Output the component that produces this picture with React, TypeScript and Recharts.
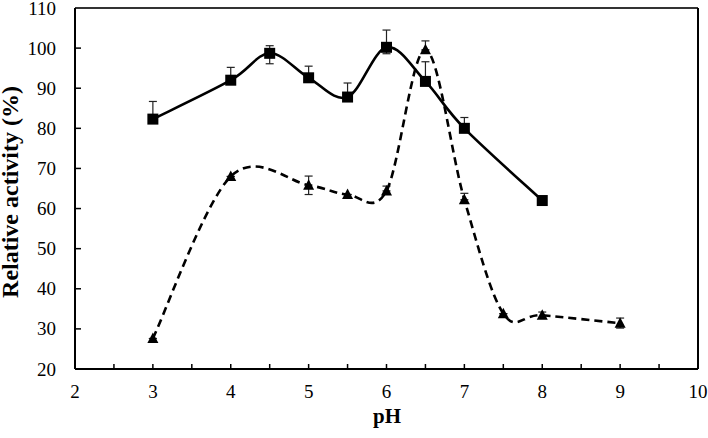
import { LineChart, Line, XAxis, YAxis, ErrorBar, ReferenceLine, Label } from "recharts";

const FONT = "Liberation Serif";

// pH values and relative activity (%) for the two series
const SQUARE_PH = [3, 4, 4.5, 5, 5.5, 6, 6.5, 7, 8];
const SQUARE_VAL = [82.3, 92, 98.7, 92.6, 87.8, 100.2, 91.7, 80, 62];
const SQUARE_ERR: [number, number][] = [
  [0, 4.4], [0, 3.2], [2.6, 1.9], [0, 2.9], [0, 3.5], [1.6, 4.3], [0, 4.9], [0, 2.7], [0, 0],
];

const TRI_PH = [3, 4, 5, 5.5, 6, 6.5, 7, 7.5, 8, 9];
const TRI_VAL = [27.6, 68, 65.8, 63.5, 64.4, 99.6, 62.2, 33.8, 33.4, 31.4];
const TRI_ERR: [number, number][] = [
  [0, 0], [0, 0], [2.3, 2.3], [0, 0], [0, 1.2], [0, 2.2], [0, 1.6], [0, 0], [0.8, 0.8], [1.2, 1.3],
];

const X_TICKS = [2, 2.5, 3, 3.5, 4, 4.5, 5, 5.5, 6, 6.5, 7, 7.5, 8, 8.5, 9, 9.5, 10];
const Y_TICKS = [20, 30, 40, 50, 60, 70, 80, 90, 100, 110];

const squareData = SQUARE_PH.map((ph, i) => ({ ph, value: SQUARE_VAL[i], err: SQUARE_ERR[i] }));
const triData = TRI_PH.map((ph, i) => ({ ph, value: TRI_VAL[i], err: TRI_ERR[i] }));

// Excel-like smoothing (Catmull-Rom with 1/6 control points)
function smoothCurve(context: any) {
  let pts: [number, number][] = [];
  return {
    areaStart() {},
    areaEnd() {},
    lineStart() {
      pts = [];
    },
    point(x: number, y: number) {
      pts.push([+x, +y]);
    },
    lineEnd() {
      const n = pts.length;
      if (!n) return;
      context.moveTo(pts[0][0], pts[0][1]);
      for (let i = 0; i < n - 1; i++) {
        const p0 = pts[i - 1] || pts[i];
        const p1 = pts[i];
        const p2 = pts[i + 1];
        const p3 = pts[i + 2] || p2;
        context.bezierCurveTo(
          p1[0] + (p2[0] - p0[0]) / 6,
          p1[1] + (p2[1] - p0[1]) / 6,
          p2[0] - (p3[0] - p1[0]) / 6,
          p2[1] - (p3[1] - p1[1]) / 6,
          p2[0],
          p2[1]
        );
      }
    },
  };
}

const SquareDot = (p: any) => {
  const { cx, cy, index } = p;
  if (cx == null || cy == null) return <g key={index} />;
  return <rect key={index} x={cx - 5.5} y={cy - 5.5} width={11} height={11} fill="#000" />;
};

const TriDot = (p: any) => {
  const { cx, cy, index } = p;
  if (cx == null || cy == null) return <g key={index} />;
  return (
    <polygon key={index} points={`${cx},${cy - 6} ${cx - 5.5},${cy + 4.5} ${cx + 5.5},${cy + 4.5}`} fill="#000" />
  );
};

const XTick = (p: any) => {
  const { x, y, payload } = p;
  const v = payload.value;
  const isInt = Number.isInteger(v);
  return (
    <g>
      {v > 2 && v < 10 && <line x1={x} y1={y} x2={x} y2={y - 5} stroke="#000" strokeWidth={1.5} />}
      {isInt && (
        <text x={x} y={y + 28.5} textAnchor="middle" style={{ fontFamily: FONT, fontSize: 19 }} fill="#000">
          {v}
        </text>
      )}
    </g>
  );
};

const YTick = (p: any) => {
  const { x, y, payload } = p;
  const v = payload.value;
  return (
    <g>
      {v > 20 && v < 110 && <line x1={x} y1={y} x2={x + 6} y2={y} stroke="#000" strokeWidth={1.5} />}
      <text x={x - 19} y={y + 6.5} textAnchor="end" style={{ fontFamily: FONT, fontSize: 19 }} fill="#000">
        {v}
      </text>
    </g>
  );
};

const YTitle = () => (
  <text
    transform="translate(18, 192) rotate(-90)"
    textAnchor="middle"
    style={{ fontFamily: FONT, fontSize: 24, fontWeight: "bold" }}
    fill="#000"
  >
    Relative activity (%)
  </text>
);

const XTitle = () => (
  <text x={387} y={423} textAnchor="middle" style={{ fontFamily: FONT, fontSize: 21, fontWeight: "bold" }} fill="#000">
    pH
  </text>
);

export default function App() {
  return (
    <div style={{ position: "absolute", left: 0, top: 0, background: "#fff", fontFamily: FONT }}>
      <LineChart width={708} height={438} margin={{ top: 8, right: 10, bottom: 0, left: 0 }}>
        <XAxis
          type="number"
          dataKey="ph"
          domain={[2, 10]}
          ticks={X_TICKS}
          interval={0}
          height={69}
          tickSize={0}
          tickMargin={0}
          tick={<XTick />}
          axisLine={{ stroke: "#000", strokeWidth: 2 }}
          allowDuplicatedCategory={false}
        >
          <Label content={<XTitle />} />
        </XAxis>
        <YAxis
          type="number"
          domain={[20, 110]}
          ticks={Y_TICKS}
          interval={0}
          width={75}
          tickSize={0}
          tickMargin={0}
          tick={<YTick />}
          axisLine={{ stroke: "#000", strokeWidth: 2 }}
        >
          <Label content={<YTitle />} />
        </YAxis>
        <ReferenceLine y={110} stroke="#333" strokeWidth={2} ifOverflow="visible" />
        <ReferenceLine x={10} stroke="#000" strokeWidth={2} ifOverflow="visible" />
        <Line
          data={triData}
          dataKey="value"
          type={smoothCurve as any}
          stroke="#000"
          strokeWidth={2.6}
          strokeDasharray="8 5"
          dot={TriDot}
          activeDot={false}
          isAnimationActive={false}
        >
          <ErrorBar dataKey="err" direction="y" width={4} stroke="#222" strokeWidth={1.2} />
        </Line>
        <Line
          data={squareData}
          dataKey="value"
          type={smoothCurve as any}
          stroke="#000"
          strokeWidth={2.6}
          dot={SquareDot}
          activeDot={false}
          isAnimationActive={false}
        >
          <ErrorBar dataKey="err" direction="y" width={4} stroke="#222" strokeWidth={1.2} />
        </Line>
      </LineChart>
    </div>
  );
}
